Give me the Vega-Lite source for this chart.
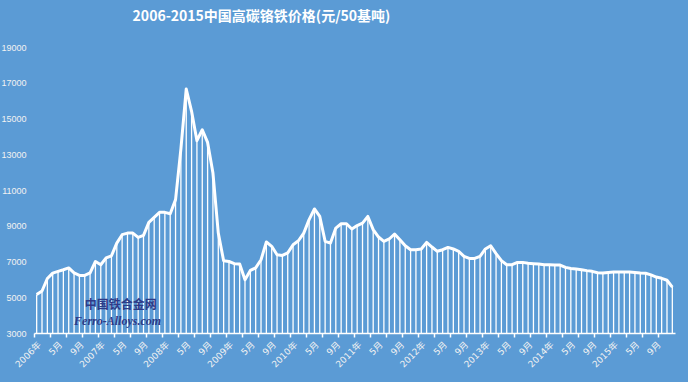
{
  "$schema": "https://vega.github.io/schema/vega-lite/v6.json",
  "width": 641,
  "height": 286,
  "autosize": {"type": "none"},
  "padding": {"left": 34, "top": 47, "right": 13, "bottom": 49},
  "background": "#5B9BD5",
  "view": {"stroke": null},
  "title": {
    "text": "2006-2015中国高碳铬铁价格(元/50基吨)",
    "font": "Noto Sans CJK SC",
    "fontSize": 14,
    "fontWeight": "bold",
    "color": "#FFFFFF",
    "anchor": "middle",
    "frame": "group",
    "dx": -93,
    "offset": 19
  },
  "datasets": {
    "price": [
      {"m": "2006-01", "v": 5150}, {"m": "2006-02", "v": 5350}, {"m": "2006-03", "v": 6050}, {"m": "2006-04", "v": 6350},
      {"m": "2006-05", "v": 6450}, {"m": "2006-06", "v": 6540}, {"m": "2006-07", "v": 6640}, {"m": "2006-08", "v": 6360},
      {"m": "2006-09", "v": 6220}, {"m": "2006-10", "v": 6220}, {"m": "2006-11", "v": 6360}, {"m": "2006-12", "v": 7000},
      {"m": "2007-01", "v": 6820}, {"m": "2007-02", "v": 7200}, {"m": "2007-03", "v": 7320}, {"m": "2007-04", "v": 8030},
      {"m": "2007-05", "v": 8500}, {"m": "2007-06", "v": 8590}, {"m": "2007-07", "v": 8590}, {"m": "2007-08", "v": 8350},
      {"m": "2007-09", "v": 8460}, {"m": "2007-10", "v": 9190}, {"m": "2007-11", "v": 9470}, {"m": "2007-12", "v": 9750},
      {"m": "2008-01", "v": 9750}, {"m": "2008-02", "v": 9670}, {"m": "2008-03", "v": 10460}, {"m": "2008-04", "v": 13300},
      {"m": "2008-05", "v": 16650}, {"m": "2008-06", "v": 15400}, {"m": "2008-07", "v": 13760}, {"m": "2008-08", "v": 14370},
      {"m": "2008-09", "v": 13660}, {"m": "2008-10", "v": 11950}, {"m": "2008-11", "v": 8590}, {"m": "2008-12", "v": 7040},
      {"m": "2009-01", "v": 7000}, {"m": "2009-02", "v": 6880}, {"m": "2009-03", "v": 6860}, {"m": "2009-04", "v": 5980},
      {"m": "2009-05", "v": 6500}, {"m": "2009-06", "v": 6640}, {"m": "2009-07", "v": 7100}, {"m": "2009-08", "v": 8090},
      {"m": "2009-09", "v": 7850}, {"m": "2009-10", "v": 7380}, {"m": "2009-11", "v": 7340}, {"m": "2009-12", "v": 7480},
      {"m": "2010-01", "v": 7940}, {"m": "2010-02", "v": 8160}, {"m": "2010-03", "v": 8590}, {"m": "2010-04", "v": 9340},
      {"m": "2010-05", "v": 9940}, {"m": "2010-06", "v": 9520}, {"m": "2010-07", "v": 8130}, {"m": "2010-08", "v": 8030},
      {"m": "2010-09", "v": 8870}, {"m": "2010-10", "v": 9110}, {"m": "2010-11", "v": 9110}, {"m": "2010-12", "v": 8820},
      {"m": "2011-01", "v": 9010}, {"m": "2011-02", "v": 9150}, {"m": "2011-03", "v": 9520}, {"m": "2011-04", "v": 8780},
      {"m": "2011-05", "v": 8370}, {"m": "2011-06", "v": 8130}, {"m": "2011-07", "v": 8260}, {"m": "2011-08", "v": 8540},
      {"m": "2011-09", "v": 8220}, {"m": "2011-10", "v": 7880}, {"m": "2011-11", "v": 7660}, {"m": "2011-12", "v": 7660},
      {"m": "2012-01", "v": 7700}, {"m": "2012-02", "v": 8070}, {"m": "2012-03", "v": 7810}, {"m": "2012-04", "v": 7570},
      {"m": "2012-05", "v": 7660}, {"m": "2012-06", "v": 7790}, {"m": "2012-07", "v": 7700}, {"m": "2012-08", "v": 7570},
      {"m": "2012-09", "v": 7290}, {"m": "2012-10", "v": 7170}, {"m": "2012-11", "v": 7170}, {"m": "2012-12", "v": 7290},
      {"m": "2013-01", "v": 7700}, {"m": "2013-02", "v": 7880}, {"m": "2013-03", "v": 7440}, {"m": "2013-04", "v": 7050},
      {"m": "2013-05", "v": 6820}, {"m": "2013-06", "v": 6820}, {"m": "2013-07", "v": 6950}, {"m": "2013-08", "v": 6950},
      {"m": "2013-09", "v": 6900}, {"m": "2013-10", "v": 6880}, {"m": "2013-11", "v": 6860}, {"m": "2013-12", "v": 6820},
      {"m": "2014-01", "v": 6820}, {"m": "2014-02", "v": 6800}, {"m": "2014-03", "v": 6800}, {"m": "2014-04", "v": 6670},
      {"m": "2014-05", "v": 6610}, {"m": "2014-06", "v": 6580}, {"m": "2014-07", "v": 6540}, {"m": "2014-08", "v": 6490},
      {"m": "2014-09", "v": 6450}, {"m": "2014-10", "v": 6370}, {"m": "2014-11", "v": 6360}, {"m": "2014-12", "v": 6390},
      {"m": "2015-01", "v": 6410}, {"m": "2015-02", "v": 6410}, {"m": "2015-03", "v": 6410}, {"m": "2015-04", "v": 6410},
      {"m": "2015-05", "v": 6390}, {"m": "2015-06", "v": 6360}, {"m": "2015-07", "v": 6340}, {"m": "2015-08", "v": 6250},
      {"m": "2015-09", "v": 6130}, {"m": "2015-10", "v": 6060}, {"m": "2015-11", "v": 5950}, {"m": "2015-12", "v": 5570}
    ],
    "mark": [
      {"m": "2006-10", "v": 4580, "label": "中国铁合金网", "kind": "cn"},
      {"m": "2006-08", "v": 3660, "label": "Ferro-Alloys.com", "kind": "en"}
    ]
  },
  "data": {"name": "price"},
  "resolve": {"axis": {"x": "independent"}},
  "encoding": {
    "x": {
      "field": "m",
      "type": "ordinal",
      "sort": null,
      "scale": {"type": "band", "paddingInner": 0, "paddingOuter": 0}
    },
    "y": {
      "field": "v",
      "type": "quantitative",
      "scale": {"domain": [3000, 19000], "nice": false, "zero": false},
      "axis": {
        "values": [3000, 5000, 7000, 9000, 11000, 13000, 15000, 17000, 19000],
        "format": "d",
        "title": null,
        "grid": false,
        "domain": false,
        "ticks": false,
        "labelPadding": 8,
        "labelFont": "Liberation Sans",
        "labelFontSize": 9,
        "labelColor": "#F2F2F2"
      }
    }
  },
  "layer": [
    {
      "mark": {"type": "rule", "color": "#FFFFFF", "strokeWidth": 1.3},
      "encoding": {
        "x": {
          "field": "m",
          "type": "ordinal",
          "sort": null,
          "axis": {
            "orient": "bottom",
            "values": ["2006-01","2006-04","2006-07","2006-10","2007-01","2007-04","2007-07","2007-10","2008-01","2008-04","2008-07","2008-10","2009-01","2009-04","2009-07","2009-10","2010-01","2010-04","2010-07","2010-10","2011-01","2011-04","2011-07","2011-10","2012-01","2012-04","2012-07","2012-10","2013-01","2013-04","2013-07","2013-10","2014-01","2014-04","2014-07","2014-10","2015-01","2015-04","2015-07","2015-10"],
            "bandPosition": 0,
            "labels": false,
            "title": null,
            "ticks": true,
            "tickSize": 4,
            "tickWidth": 1.5,
            "tickColor": "#FFFFFF",
            "domain": true,
            "domainColor": "#FFFFFF",
            "domainWidth": 1.5,
            "grid": false
          }
        },
        "y2": {"datum": 3000}
      }
    },
    {
      "mark": {"type": "line", "color": "#FFFFFF", "strokeWidth": 3, "strokeJoin": "round"},
      "encoding": {
        "x": {
          "field": "m",
          "type": "ordinal",
          "sort": null,
          "axis": {
            "orient": "bottom",
            "values": ["2006-01","2006-05","2006-09","2007-01","2007-05","2007-09","2008-01","2008-05","2008-09","2009-01","2009-05","2009-09","2010-01","2010-05","2010-09","2011-01","2011-05","2011-09","2012-01","2012-05","2012-09","2013-01","2013-05","2013-09","2014-01","2014-05","2014-09","2015-01","2015-05","2015-09"],
            "bandPosition": 0,
            "labelExpr": "substring(datum.value,5,7)=='01' ? substring(datum.value,0,4)+'年' : toNumber(substring(datum.value,5,7))+'月'",
            "labelAngle": -45,
            "labelPadding": 7,
            "labelFont": "DejaVu Sans, Noto Sans CJK SC",
            "labelFontSize": 9,
            "labelColor": "#F2F2F2",
            "labelOverlap": false,
            "title": null,
            "ticks": false,
            "domain": false,
            "grid": false
          }
        }
      }
    },
    {
      "data": {"name": "mark"},
      "transform": [{"filter": "datum.kind=='cn'"}],
      "mark": {"type": "text", "align": "left", "baseline": "middle", "font": "Noto Sans CJK SC", "fontSize": 12, "fontWeight": "bold", "color": "#2E3A87"},
      "encoding": {
        "x": {"field": "m", "type": "ordinal", "sort": null, "axis": null},
        "text": {"field": "label"}
      }
    },
    {
      "data": {"name": "mark"},
      "transform": [{"filter": "datum.kind=='en'"}],
      "mark": {"type": "text", "align": "left", "baseline": "middle", "font": "Liberation Serif", "fontSize": 12, "fontWeight": "bold", "fontStyle": "italic", "color": "#2E3A87"},
      "encoding": {
        "x": {"field": "m", "type": "ordinal", "sort": null, "axis": null},
        "text": {"field": "label"}
      }
    }
  ]
}
